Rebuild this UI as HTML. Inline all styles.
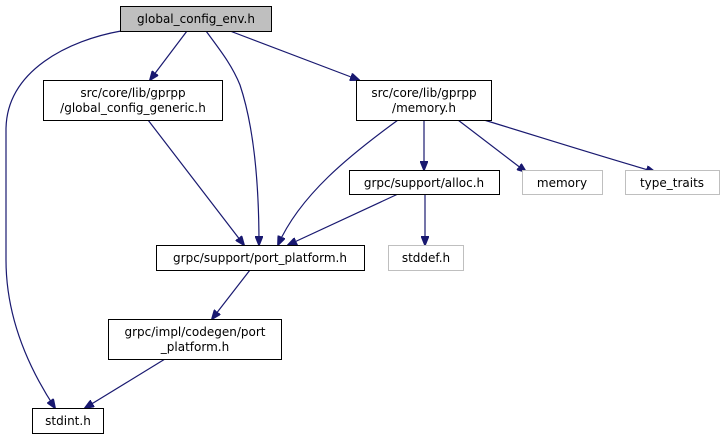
<!DOCTYPE html>
<html><head><meta charset="utf-8"><style>
html,body{margin:0;padding:0;background:#fff;}
svg{display:block;}
text{font-family:"DejaVu Sans","Liberation Sans",sans-serif;font-size:12px;fill:#000;}
</style></head><body>
<svg width="723" height="440" viewBox="0 0 723 440" xmlns="http://www.w3.org/2000/svg">
<defs><marker id="a" markerWidth="10" markerHeight="8" refX="9" refY="4" orient="auto" markerUnits="userSpaceOnUse"><path d="M0,0 L10,4 L0,8 z" fill="#191970" stroke="#191970"/></marker></defs>
<g fill="none" stroke="#191970" stroke-width="1.2" marker-end="url(#a)">
<path d="M187,31 L150,80"/>
<path d="M230,31 L359,80"/>
<path d="M206,31 C220,50 232,65 240,85 C255,130 259,190 259,245"/>
<path d="M121,31 C70,40 6,70 6,130 L6,260 C6,320 30,370 55,408"/>
<path d="M148,120 L244,245"/>
<path d="M398,120 C350,155 300,195 278,245"/>
<path d="M424,120 L424,170"/>
<path d="M458,120 L526,172"/>
<path d="M484,120 C540,137 580,150 655,172"/>
<path d="M398,194 L288,245"/>
<path d="M425,194 L425,245"/>
<path d="M250,270 L212,319"/>
<path d="M165,359 L85,408"/>
</g>
<g stroke-width="1">
<rect x="120.5" y="6.5" width="151" height="25" fill="#bfbfbf" stroke="#000"/>
<rect x="43.5" y="80.5" width="179" height="40" fill="#fff" stroke="#000"/>
<rect x="356.5" y="80.5" width="135" height="40" fill="#fff" stroke="#000"/>
<rect x="349.5" y="170.5" width="150" height="24" fill="#fff" stroke="#000"/>
<rect x="522.5" y="170.5" width="80" height="24" fill="#fff" stroke="#bfbfbf"/>
<rect x="625.5" y="170.5" width="94" height="24" fill="#fff" stroke="#bfbfbf"/>
<rect x="156.5" y="245.5" width="208" height="25" fill="#fff" stroke="#000"/>
<rect x="388.5" y="245.5" width="75" height="25" fill="#fff" stroke="#bfbfbf"/>
<rect x="108.5" y="319.5" width="173" height="40" fill="#fff" stroke="#000"/>
<rect x="32.5" y="408.5" width="71" height="25" fill="#fff" stroke="#000"/>
</g>
<g text-anchor="middle">
<text x="196" y="23">global_config_env.h</text>
<text x="133" y="97">src/core/lib/gprpp</text>
<text x="133" y="112">/global_config_generic.h</text>
<text x="424" y="97">src/core/lib/gprpp</text>
<text x="424" y="112">/memory.h</text>
<text x="424" y="187">grpc/support/alloc.h</text>
<text x="562" y="187">memory</text>
<text x="672" y="187">type_traits</text>
<text x="260" y="262">grpc/support/port_platform.h</text>
<text x="426" y="262">stddef.h</text>
<text x="195" y="336">grpc/impl/codegen/port</text>
<text x="195" y="351">_platform.h</text>
<text x="68" y="425">stdint.h</text>
</g>
</svg>
</body></html>
